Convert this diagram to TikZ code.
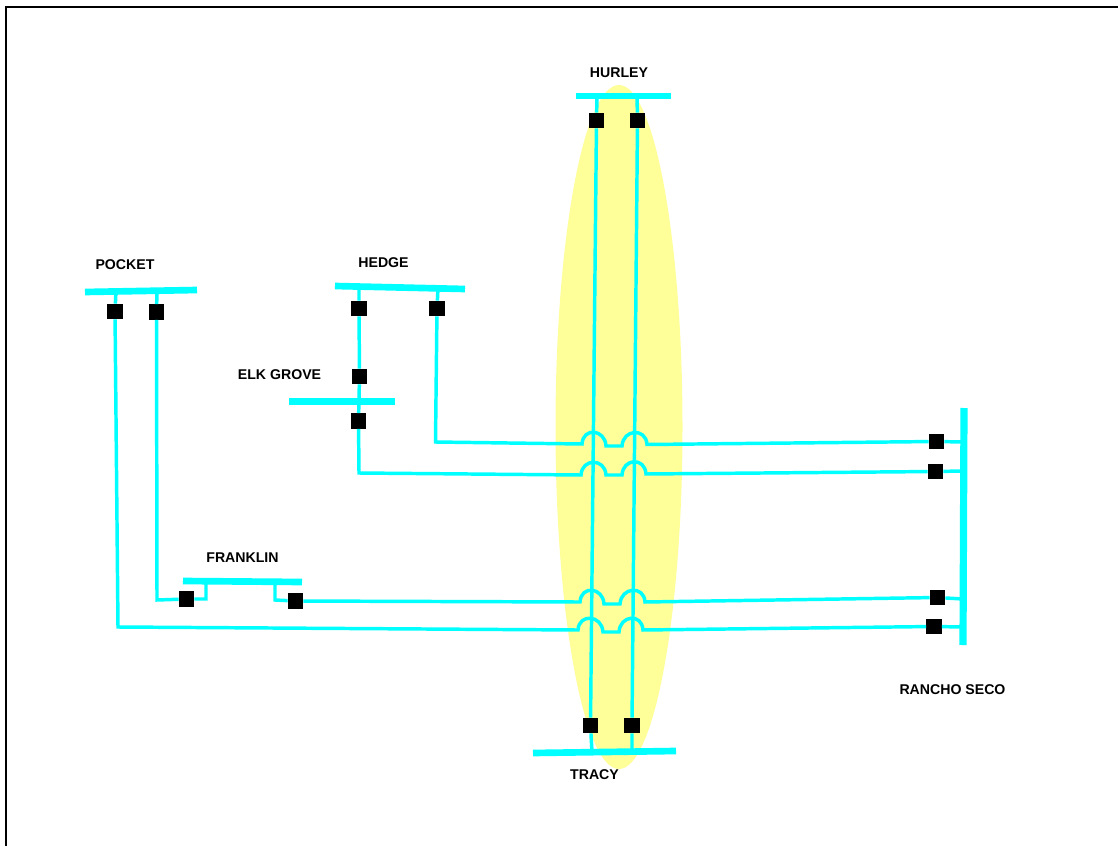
\documentclass[tikz,border=0pt]{standalone}
\usepackage{fontspec}
\setmainfont{Liberation Sans}
\usepackage{xcolor}
\usetikzlibrary{positioning}
\definecolor{buscol}{HTML}{00FFFF}
\definecolor{zonecol}{HTML}{FFFF99}

\begin{document}
\begin{tikzpicture}[x=0.75pt, y=-0.75pt,
		brk/.style = {fill=black, minimum size=11.5pt, inner sep=0pt},
		bus/.style = {buscol, line width=5pt},
		line/.style = {buscol, line width=2.6pt},
		hop/.style = {to path={.. controls +(1,-17) and +(-1,-17) .. (\tikztotarget)}},
		lbl/.style = {font=\bfseries\fontsize{10.6}{12}\selectfont, inner sep=0pt}]
		\useasboundingbox (0,0) rectangle (1118,846);
		\draw[line width=1.6pt] (6,846) -- (6,7) -- (1118,7);
		\fill[zonecol] (619,427) ellipse (63.5 and 342);
		
		% labels
		\node[lbl] (lhu) at (619,73) {HURLEY};
		\node[lbl] (lpo) at (125,265) {POCKET};
		\node[lbl] (lhd) at (383.5,263) {HEDGE};
		\node[lbl] (leg) at (279.5,375) {ELK GROVE};
		\node[lbl] (lfr) at (242.5,558) {FRANKLIN};
		\node[lbl] (lrs) at (952.5,690) {RANCHO SECO};
		\node[lbl] (ltr) at (594.5,775) {TRACY};
		
		% breakers
		\node[brk] (hu1) at (596.5,120.5) {};
		\node[brk] (hu2) at (637.5,120.5) {};
		\node[brk] (tr1) at (590.5,725.5) {};
		\node[brk] (tr2) at (632,725.5) {};
		\node[brk] (po1) at (115,311.5) {};
		\node[brk] (po2) at (156.5,312) {};
		\node[brk] (hd1) at (359,308.5) {};
		\node[brk] (hd2) at (437,308.5) {};
		\node[brk] (eg1) at (359.5,376.5) {};
		\node[brk] (eg2) at (358.5,421) {};
		\node[brk] (fr1) at (186.5,599) {};
		\node[brk] (fr2) at (295.5,601) {};
		\node[brk] (rs1) at (936.5,441.5) {};
		\node[brk] (rs2) at (935.5,471.5) {};
		\node[brk] (rs3) at (937.5,597.5) {};
		\node[brk] (rs4) at (934,626.5) {};
		
		% bus taps and corners
		\coordinate (buh1) at (597,96);
		\coordinate (buh2) at (637,96);
		\coordinate (but1) at (592,752);
		\coordinate (but2) at (632,752);
		\coordinate (bup1) at (116,291);
		\coordinate (bup2) at (157,291);
		\coordinate (bud1) at (359,287);
		\coordinate (bud2) at (438,288);
		\coordinate (buf1) at (206,582);
		\coordinate (buf2) at (275,582);
		\coordinate (bur1) at (963,442);
		\coordinate (bur2) at (963,471);
		\coordinate (bur3) at (963,599);
		\coordinate (bur4) at (963,627);
		\coordinate (c1) at (435.5,442);
		\coordinate (c2) at (359,473);
		\coordinate (c3) at (118,627);
		\coordinate (c4) at (157,600);
		\coordinate (c5) at (206,599);
		\coordinate (c6) at (275,600);
		
		% hop points, row by row
		\coordinate (a1) at (582,444);
		\coordinate (b1) at (606,446);
		\coordinate (d1) at (622,446);
		\coordinate (e1) at (647,444.5);
		\coordinate (a2) at (581,475);
		\coordinate (b2) at (606,475);
		\coordinate (d2) at (622,475);
		\coordinate (e2) at (646,474);
		\coordinate (a3) at (580,602);
		\coordinate (b3) at (604,604);
		\coordinate (d3) at (620,604);
		\coordinate (e3) at (645,602);
		\coordinate (a4) at (578,630);
		\coordinate (b4) at (603,632);
		\coordinate (d4) at (619,632);
		\coordinate (e4) at (643,630);
		
		\draw[line] (buh1) -- (hu1) -- (tr1) -- (but1);
		\draw[line] (buh2) -- (hu2) -- (tr2) -- (but2);
		\draw[line] (bud2) -- (hd2) -- (c1) -- (a1) to[hop] (b1) -- (d1) to[hop] (e1) -- (rs1) -- (bur1);
		\draw[line] (bud1) -- (hd1) -- (eg1) -- (eg2) -- (c2) -- (a2) to[hop] (b2) -- (d2) to[hop] (e2) -- (rs2) -- (bur2);
		\draw[line] (buf2) -- (c6) -- (fr2) -- (a3) to[hop] (b3) -- (d3) to[hop] (e3) -- (rs3) -- (bur3);
		\draw[line] (bup1) -- (po1) -- (c3) -- (a4) to[hop] (b4) -- (d4) to[hop] (e4) -- (rs4) -- (bur4);
		\draw[line] (bup2) -- (po2) -- (c4) -- (fr1) -- (c5) -- (buf1);
		
		% bus bars
		\draw[bus] (576,96) -- (671,96);
		\draw[bus] (533,753) -- (676,751);
		\draw[bus] (85,292) -- (197,290);
		\draw[bus] (335,286) -- (465,289);
		\draw[bus] (289,401.5) -- (395,401.5);
		\draw[bus] (183,581) -- (302,582);
		\draw[bus, line width=5.4pt] (964,408) -- (963,645);
	\end{tikzpicture}
\end{document}
